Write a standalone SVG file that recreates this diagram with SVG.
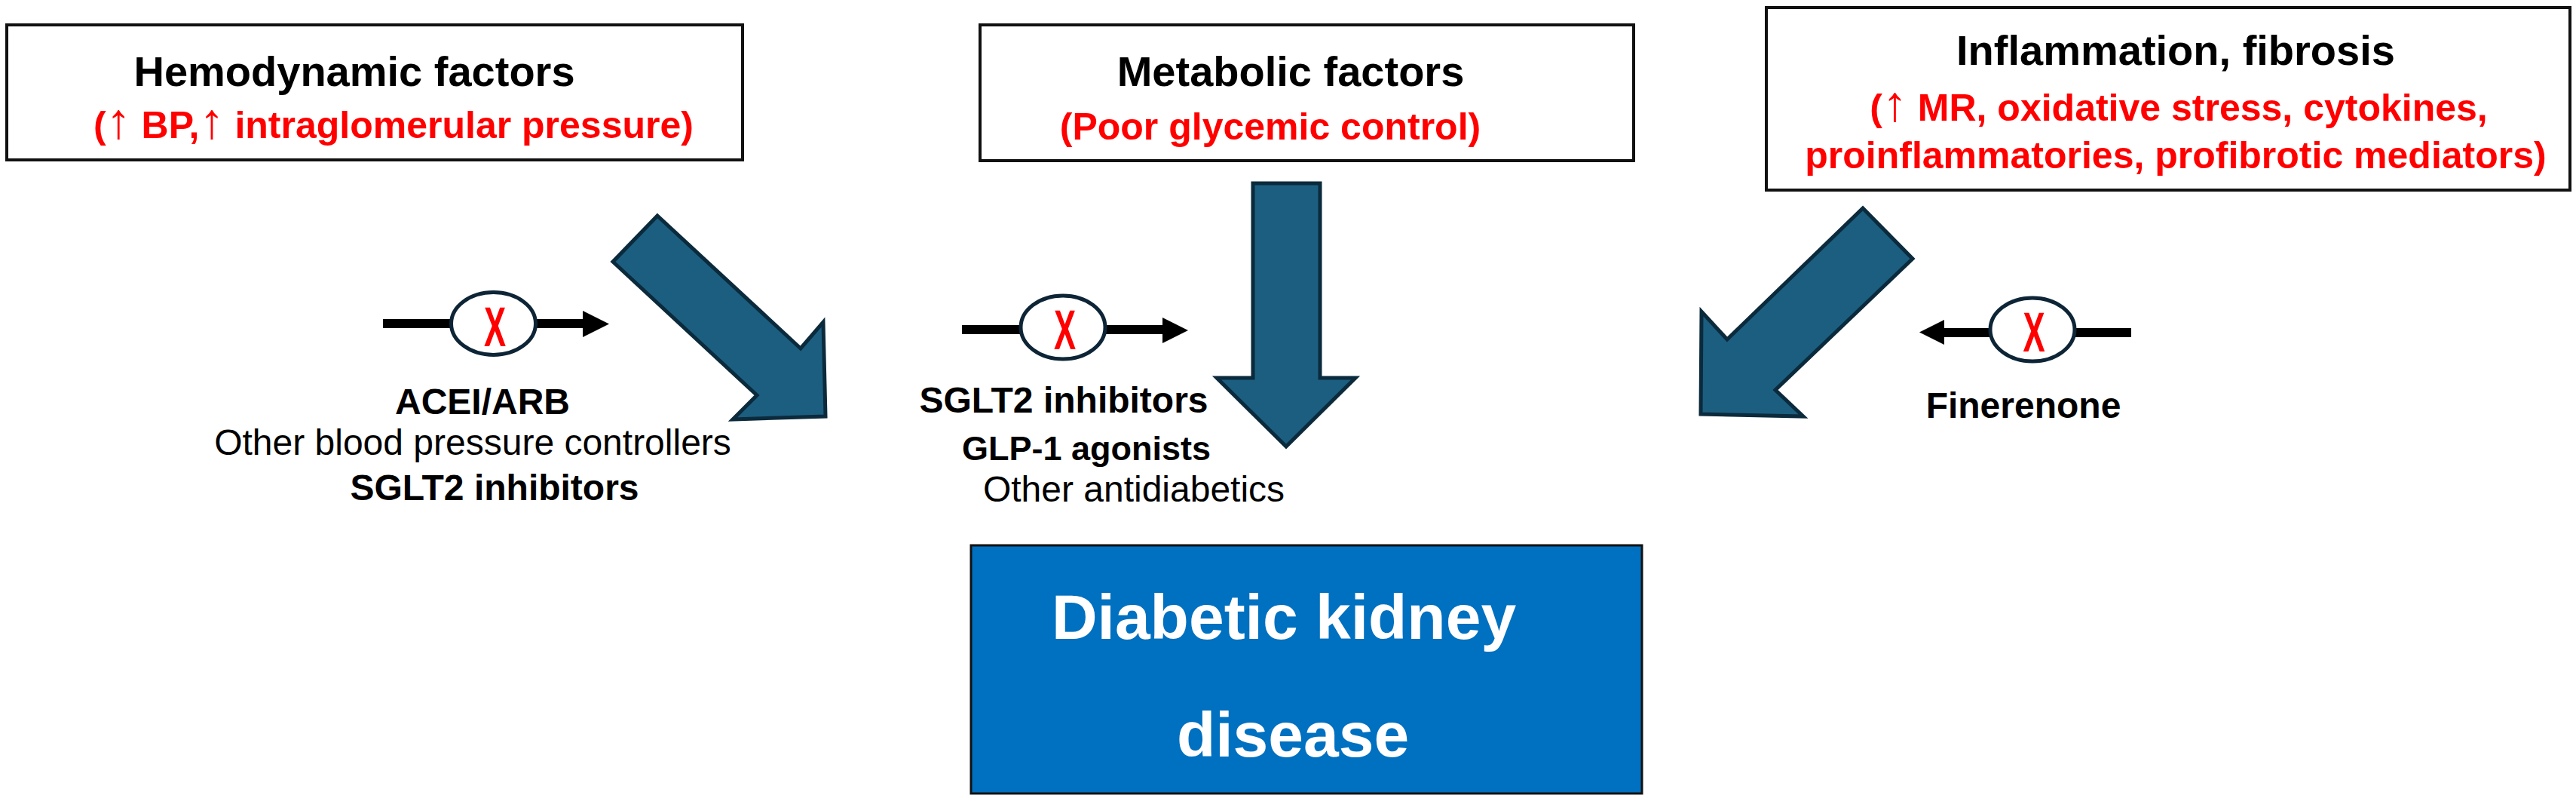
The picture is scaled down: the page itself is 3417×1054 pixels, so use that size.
<svg xmlns="http://www.w3.org/2000/svg" width="3417" height="1054" viewBox="0 0 3417 1054">
<style>
text{font-family:"Liberation Sans",Arial,Helvetica,sans-serif}
.box{fill:#fff;stroke:#111;stroke-width:4}
.title{font-size:56px;font-weight:bold;fill:#000;text-anchor:middle}
.red{font-size:50px;font-weight:bold;fill:#ff0000;text-anchor:middle}
.up{font-size:66px;font-weight:normal}
.lblb{font-size:48px;font-weight:bold;fill:#000;text-anchor:middle}
.lbl{font-size:48px;fill:#000;text-anchor:middle}
.big{font-size:84px;font-weight:bold;fill:#fff;text-anchor:middle}
.blk{fill:#1b5e80;stroke:#0b2a3c;stroke-width:5;stroke-linejoin:miter}
.ln{stroke:#000;stroke-width:12}
.hd{fill:#000}
.ell{fill:#fff;stroke:#0d2536;stroke-width:5}
.x{font-size:74px;font-weight:bold;fill:#ff0000;text-anchor:middle}
</style>
<rect width="3417" height="1054" fill="#fff"/>
<g id="hemodynamic">
<rect class="box" x="9" y="33" width="976" height="179"/>
<text class="title" x="470" y="114">Hemodynamic factors</text>
<text class="red" x="522" y="183">(<tspan class="up">↑</tspan> BP,<tspan class="up">↑</tspan> intraglomerular pressure)</text>
</g>
<g id="metabolic">
<rect class="box" x="1300" y="33" width="867" height="180"/>
<text class="title" x="1712" y="114">Metabolic factors</text>
<text class="red" x="1685" y="185">(Poor glycemic control)</text>
</g>
<g id="inflammation">
<rect class="box" x="2343" y="10" width="1066" height="242"/>
<text class="title" x="2886" y="86">Inflammation, fibrosis</text>
<text class="red" x="2890" y="160">(<tspan class="up">↑</tspan> MR, oxidative stress, cytokines,</text>
<text class="red" x="2886" y="223">proinflammatories, profibrotic mediators)</text>
</g>
<g id="dkd">
<rect x="1288" y="723" width="890" height="329" fill="#0070c0" stroke="#111" stroke-width="3"/>
<text class="big" x="1703" y="847">Diabetic kidney</text>
<text class="big" x="1715" y="1003">disease</text>
</g>
<g id="label-hemodynamic">
<text class="lblb" x="640" y="549">ACEI/ARB</text>
<text class="lbl" x="627" y="603">Other blood pressure controllers</text>
<text class="lblb" x="656" y="663">SGLT2 inhibitors</text>
</g>
<g id="label-metabolic">
<text class="lblb" x="1411" y="547">SGLT2 inhibitors</text>
<text class="lblb" x="1441" y="610" style="font-size:45px">GLP-1 agonists</text>
<text class="lbl" x="1504" y="665">Other antidiabetics</text>
</g>
<g id="label-inflammation">
<text class="lblb" x="2684" y="554">Finerenone</text>
</g>
<g id="inhibitor-left">
<line class="ln" x1="508" y1="429" x2="600" y2="429"/>
<line class="ln" x1="709" y1="429" x2="776" y2="429"/>
<polygon class="hd" points="773,412 808,429.5 773,447"/>
<ellipse class="ell" cx="654.5" cy="429" rx="56" ry="41.5"/>
<text class="x" transform="translate(656.5,459) scale(0.59,1)">X</text>
</g>
<g id="inhibitor-middle">
<line class="ln" x1="1276" y1="437" x2="1356" y2="437"/>
<line class="ln" x1="1465" y1="437" x2="1545" y2="437"/>
<polygon class="hd" points="1542,421 1576,438 1542,455"/>
<ellipse class="ell" cx="1410" cy="434" rx="56" ry="42"/>
<text class="x" transform="translate(1412.5,463) scale(0.59,1)">X</text>
</g>
<g id="inhibitor-right">
<line class="ln" x1="2576" y1="441" x2="2642" y2="441"/>
<line class="ln" x1="2750" y1="441" x2="2827" y2="441"/>
<polygon class="hd" points="2579,424 2546,440.5 2579,457"/>
<ellipse class="ell" cx="2696" cy="437" rx="56" ry="42"/>
<text class="x" transform="translate(2698,466) scale(0.59,1)">X</text>
</g>
<g id="connectors">
<polygon class="blk" points="872,286 1062,462 1092,427 1095,552 972,556 1004,524 813,347"/>
<polygon class="blk" points="1662,243 1751,243 1751,501 1798,501 1706,592 1614,501 1662,501"/>
<polygon class="blk" points="2471,276 2537,343 2355,517 2392,552 2256,549 2257,413 2291,450"/>
</g>
</svg>
